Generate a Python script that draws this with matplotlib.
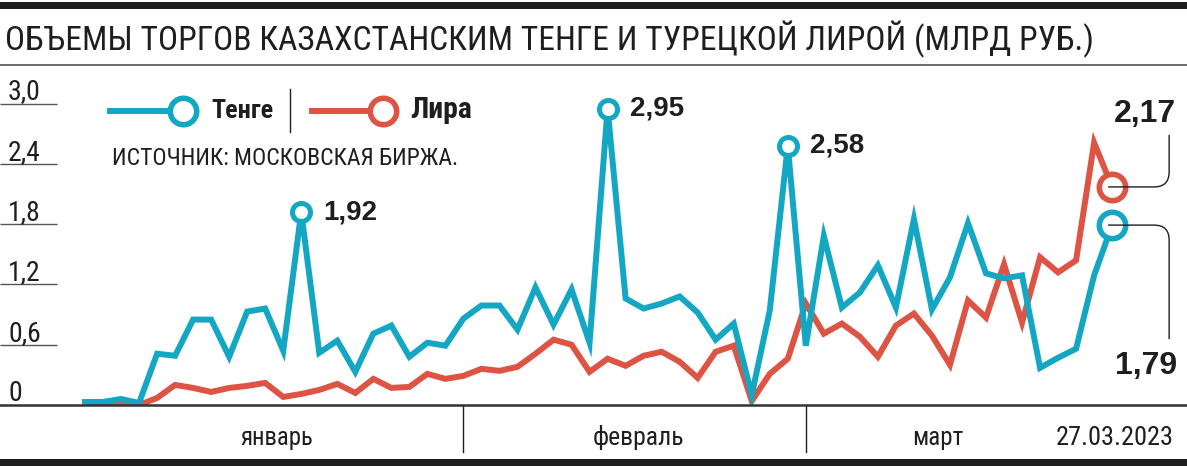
import matplotlib
matplotlib.use('Agg')
import matplotlib.pyplot as plt
from matplotlib import font_manager
from matplotlib.path import Path
from matplotlib.patches import PathPatch, Rectangle
from matplotlib.lines import Line2D
from matplotlib.transforms import IdentityTransform, blended_transform_factory

# ---------------- data ----------------
title = "ОБЪЕМЫ ТОРГОВ КАЗАХСТАНСКИМ ТЕНГЕ И ТУРЕЦКОЙ ЛИРОЙ (МЛРД РУБ.)"
source = "ИСТОЧНИК: МОСКОВСКАЯ БИРЖА."
series_names = ["Тенге", "Лира"]
months = ["январь", "февраль", "март"]
month_start = [0, 21, 40]
last_date = "27.03.2023"
yticks = [0, 0.6, 1.2, 1.8, 2.4, 3.0]
ytick_labels = ["0", "0,6", "1,2", "1,8", "2,4", "3,0"]

tenge = [0.03, 0.03, 0.06, 0.02, 0.51, 0.49, 0.85, 0.85, 0.48, 0.93,
         0.96, 0.54, 1.92, 0.52, 0.64, 0.33, 0.71, 0.79, 0.48, 0.62,
         0.59, 0.86, 0.99, 0.99, 0.75, 1.17, 0.80, 1.15, 0.62, 2.95,
         1.06, 0.96, 1.01, 1.08, 0.92, 0.65, 0.81, 0.10, 0.94, 2.58,
         0.59, 1.68, 0.97, 1.12, 1.39, 0.97, 1.85, 0.95, 1.27, 1.81,
         1.31, 1.26, 1.29, 0.37, 0.47, 0.56, 1.29, 1.79]
lira = [0.00, 0.00, 0.02, 0.00, 0.07, 0.20, 0.17, 0.13, 0.17, 0.19,
        0.22, 0.08, 0.11, 0.15, 0.21, 0.12, 0.26, 0.17, 0.18, 0.31,
        0.26, 0.29, 0.36, 0.34, 0.38, 0.51, 0.65, 0.60, 0.33, 0.46,
        0.39, 0.49, 0.53, 0.43, 0.27, 0.53, 0.59, 0.04, 0.31, 0.46,
        1.01, 0.71, 0.81, 0.68, 0.48, 0.79, 0.91, 0.69, 0.40, 1.04,
        0.87, 1.40, 0.82, 1.47, 1.32, 1.44, 2.61, 2.17]
tenge_peaks = [12, 29, 39]
tenge_peak_labels = ["1,92", "2,95", "2,58"]
last_labels = ["1,79", "2,17"]

TEAL = "#14a7c3"
RED = "#de5444"
DARK = "#1e1e1e"
GRAY = "#555555"

# ---------------- fonts ----------------
names = {f.name for f in font_manager.fontManager.ttflist}
cond_family = None
cond_stretch = 'normal'
for cand in ['Roboto Condensed', 'Liberation Sans Narrow', 'Open Sans Condensed',
             'Noto Sans Condensed', 'DejaVu Sans Condensed']:
    if cand in names:
        cond_family = cand
        break
if cond_family is None:
    condensed = [f for f in font_manager.fontManager.ttflist if f.stretch == 'condensed']
    if condensed:
        cond_family = condensed[0].name
        cond_stretch = 'condensed'
    else:
        cond_family = 'Roboto'
BOLD_FAMILY = 'Liberation Sans'

W, H = 1187, 466
fig = plt.figure(figsize=(W / 100, H / 100), dpi=100)
fig.patch.set_facecolor('white')

Y0 = 405      # pixel row of zero
YTOP = 65     # pixel row of axes top
SCALE = 100.5  # pixels per unit
X0 = 85
DX = 18.02

ax = fig.add_axes([0, (H - Y0) / H, 1, (Y0 - YTOP) / H])
ax.set_xlim(-X0 / DX, (W - X0) / DX)
ax.set_ylim(0, (Y0 - YTOP) / SCALE)
ax.axis('off')


def fx(px):
    return px / W


def fy(py):
    return 1 - py / H


renderer = fig.canvas.get_renderer()


def fit(t, target_w):
    w = t.get_window_extent(renderer).width
    t.set_fontsize(t.get_fontsize() * target_w / w)
    return t


def ctext(x, y, s, size, **kw):
    return fig.text(x, y, s, fontsize=size, family=[cond_family, 'DejaVu Sans'],
                    stretch=cond_stretch, **kw)


# top bar, title and rule
fig.add_artist(Rectangle((0, fy(9)), 1, 7 / H, transform=fig.transFigure,
                         color=DARK, lw=0))
t = ctext(fx(5), fy(50), title, 26, color=DARK, va='baseline', ha='left')
fit(t, 1087)
fig.add_artist(Line2D([0, 1], [fy(64.5)] * 2, color=GRAY, lw=1.2))

# y ticks
trans_y = blended_transform_factory(fig.transFigure, ax.transData)
for v, lab in zip(yticks, ytick_labels):
    if v > 0:
        ax.plot([0, 57 / W], [v, v], transform=trans_y, color=GRAY, lw=1.0,
                solid_capstyle='butt')
    ax.text(8 / W, v + 4 / SCALE, lab, transform=trans_y, fontsize=20,
            family=[cond_family, 'DejaVu Sans'], stretch=cond_stretch,
            color=DARK, va='baseline', ha='left')

# series
x = list(range(len(tenge)))
ax.plot(x, lira, color=RED, lw=4.3, solid_joinstyle='miter', zorder=3)
ax.plot(x, tenge, color=TEAL, lw=4.3, solid_joinstyle='miter', zorder=4)

# peak markers
for i, lab in zip(tenge_peaks, tenge_peak_labels):
    ax.plot([i], [tenge[i]], 'o', ms=13, mew=3.6, mfc='white', mec=TEAL, zorder=6)
    ax.annotate(lab, (i, tenge[i]), xytext=(22, 0), textcoords='offset pixels',
                fontsize=20, fontweight='bold', family=BOLD_FAMILY, color=DARK,
                va='center', ha='left', zorder=7)

# final markers
last = len(tenge) - 1
ax.plot([last], [lira[last]], 'o', ms=19, mew=4, mfc='white', mec=RED, zorder=6)
ax.plot([last], [tenge[last]], 'o', ms=19, mew=4, mfc='white', mec=TEAL, zorder=6)

fig.canvas.draw()
for val, lab, sgn in [(lira[last], last_labels[1], 1), (tenge[last], last_labels[0], -1)]:
    px, py = ax.transData.transform((last, val))
    verts = [(px - 4, py), (px + 42, py), (px + 57, py), (px + 57, py + sgn * 15),
             (px + 57, py + sgn * (52 if sgn > 0 else 114))]
    codes = [Path.MOVETO, Path.LINETO, Path.CURVE3, Path.CURVE3, Path.LINETO]
    fig.add_artist(PathPatch(Path(verts, codes), transform=IdentityTransform(),
                             fill=False, ec=DARK, lw=1.0, zorder=8))
    if sgn > 0:
        ax.annotate(lab, (last, val), xytext=(2, 65), textcoords='offset pixels',
                    fontsize=23, fontweight='bold', family=BOLD_FAMILY, color=DARK,
                    va='baseline', ha='left', zorder=7)
    else:
        ax.annotate(lab, (last, val), xytext=(3, -126), textcoords='offset pixels',
                    fontsize=23, fontweight='bold', family=BOLD_FAMILY, color=DARK,
                    va='top', ha='left', zorder=7)

# legend
ly = fy(111)
fig.add_artist(Line2D([fx(110), fx(170)], [ly, ly], color=TEAL, lw=4.3))
fig.add_artist(Line2D([fx(183)], [ly], marker='o', ms=19, mew=4, mfc='white', mec=TEAL))
l1 = fig.text(fx(211), fy(118), series_names[0], fontsize=17, fontweight='bold',
              family=[cond_family, 'DejaVu Sans'], stretch=cond_stretch, color=DARK,
              va='baseline', ha='left')
fit(l1, 62)
fig.add_artist(Line2D([fx(290)] * 2, [fy(89), fy(132)], color=DARK, lw=1.0))
fig.add_artist(Line2D([fx(312), fx(370)], [ly, ly], color=RED, lw=4.3))
fig.add_artist(Line2D([fx(383)], [ly], marker='o', ms=19, mew=4, mfc='white', mec=RED))
l2 = fig.text(fx(410), fy(118), series_names[1], fontsize=17, fontweight='bold',
              family=[cond_family, 'DejaVu Sans'], stretch=cond_stretch, color=DARK,
              va='baseline', ha='left')
fit(l2, 62)
ts = ctext(fx(112), fy(165), source, 14, color=DARK, va='baseline', ha='left')
fit(ts, 348)

# baseline & month axis
fig.add_artist(Line2D([0, 1], [fy(405)] * 2, color='#333333', lw=1.8))
trans_x = blended_transform_factory(ax.transData, fig.transFigure)
for ms_ in month_start[1:]:
    ax.plot([ms_, ms_], [fy(405), fy(452)], transform=trans_x, color=DARK, lw=1.0,
            clip_on=False)
month_centers_px = [277, 639, 938]
month_widths_px = [73, 92, 51]
for m, cpx, wpx in zip(months, month_centers_px, month_widths_px):
    tm = ctext(fx(cpx), fy(445), m, 17, color=DARK, va='baseline', ha='center')
    fit(tm, wpx)
td = ctext(fx(1174), fy(445), last_date, 17, color=DARK, va='baseline', ha='right')
fit(td, 118)
fig.add_artist(Rectangle((0, fy(466)), 1, 7 / H, transform=fig.transFigure,
                         color=DARK, lw=0))

fig.savefig('out.png', dpi=100)
